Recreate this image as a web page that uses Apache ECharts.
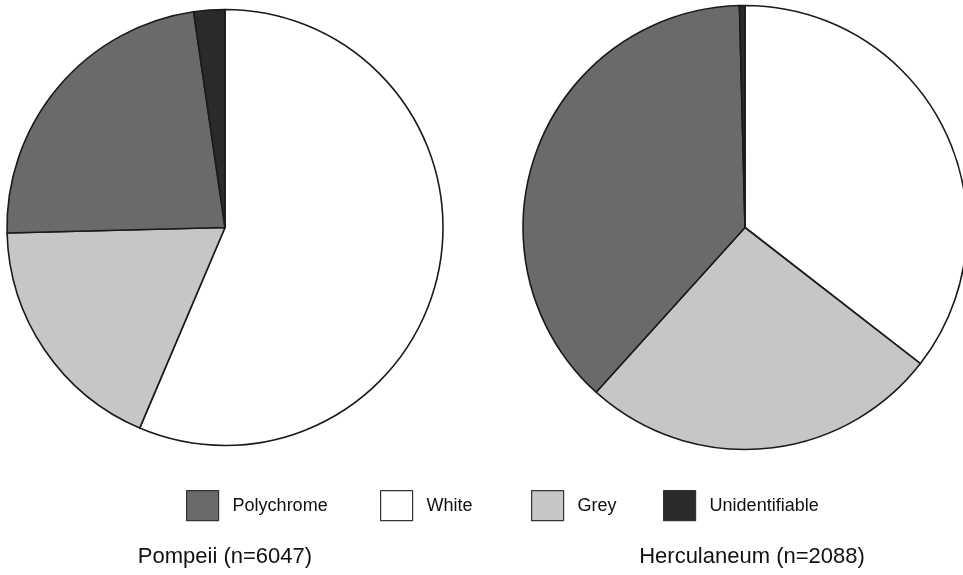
<!DOCTYPE html>
<html>
<head>
<meta charset="utf-8">
<script src="https://cdn.jsdelivr.net/npm/echarts@6/dist/echarts.min.js"></script>
<style>html,body{margin:0;padding:0;background:#fff;}#c{width:963px;height:575px;}</style>
</head>
<body>
<div id="c"></div>
<script>
// Slice order (clockwise from 12 o'clock)
const categories = ['White', 'Grey', 'Polychrome', 'Unidentifiable'];
const legendOrder = ['Polychrome', 'White', 'Grey', 'Unidentifiable'];
const pompeiiValues = [56.4, 18.2, 23.1, 2.3];        // percent
const herculaneumValues = [35.5, 26.2, 37.9, 0.4];    // percent
const siteTitles = ['Pompeii (n=6047)', 'Herculaneum (n=2088)'];

const colors = {
  'Polychrome': '#6a6a6a',
  'White': '#ffffff',
  'Grey': '#c6c6c6',
  'Unidentifiable': '#2a2a2a'
};

function buildData(vals) {
  return categories.map((c, i) => ({
    name: c, value: vals[i],
    itemStyle: { color: colors[c] }
  }));
}

const pieBase = {
  type: 'pie',
  startAngle: 90,
  clockwise: true,
  avoidLabelOverlap: false,
  label: { show: false },
  labelLine: { show: false },
  emphasis: { disabled: true },
  itemStyle: { borderColor: '#1a1a1a', borderWidth: 1.6 },
  animation: false
};

const legendPos = [186, 380, 531, 663];
const legends = legendOrder.map((n, i) => ({
  data: [n],
  left: legendPos[i],
  top: 490,
  orient: 'horizontal',
  icon: 'rect',
  itemWidth: 32,
  itemHeight: 30,
  selectedMode: false,
  padding: 0,
  itemStyle: { borderColor: '#333', borderWidth: 1.2 },
  textStyle: { fontFamily: 'Liberation Sans, Arial, sans-serif', fontSize: 18, color: '#111', padding: [0, 0, 0, 9] }
}));

const chart = echarts.init(document.getElementById('c'), null, { renderer: 'canvas' });
chart.setOption({
  backgroundColor: '#ffffff',
  animation: false,
  legend: legends,
  title: [
    { text: siteTitles[0], left: 220, top: 541, textAlign: 'center',
      textStyle: { fontFamily: 'Liberation Sans, Arial, sans-serif', fontSize: 22, fontWeight: 'normal', color: '#111' } },
    { text: siteTitles[1], left: 747, top: 541, textAlign: 'center',
      textStyle: { fontFamily: 'Liberation Sans, Arial, sans-serif', fontSize: 22, fontWeight: 'normal', color: '#111' } }
  ],
  series: [
    Object.assign({}, pieBase, { name: 'Pompeii', center: [225, 227.5], radius: [0, 218], data: buildData(pompeiiValues) }),
    Object.assign({}, pieBase, { name: 'Herculaneum', center: [745, 227.5], radius: [0, 222], data: buildData(herculaneumValues) })
  ]
});
</script>
</body>
</html>
